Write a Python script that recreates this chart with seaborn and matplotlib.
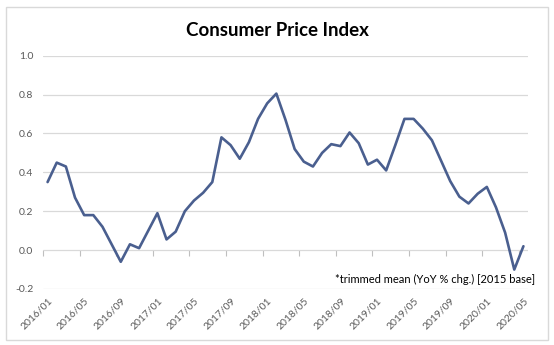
import matplotlib
matplotlib.use("Agg")
import matplotlib.pyplot as plt
from matplotlib.patches import Rectangle
import seaborn as sns
import pandas as pd

# ---- data ----
month_index = list(range(53))  # 2016/01 .. 2020/05, monthly
cpi_values = [0.35, 0.45, 0.43, 0.27, 0.18, 0.18, 0.12, 0.03, -0.06, 0.03,
              0.01, 0.10, 0.19, 0.055, 0.095, 0.20, 0.255, 0.295, 0.35, 0.58,
              0.54, 0.47, 0.555, 0.675, 0.755, 0.805, 0.67, 0.52, 0.455, 0.43,
              0.50, 0.545, 0.535, 0.605, 0.55, 0.44, 0.465, 0.41, 0.54, 0.675,
              0.675, 0.625, 0.565, 0.46, 0.355, 0.275, 0.24, 0.29, 0.325, 0.22,
              0.09, -0.10, 0.02]
tick_labels = ["2016/01", "2016/05", "2016/09", "2017/01", "2017/05", "2017/09",
               "2018/01", "2018/05", "2018/09", "2019/01", "2019/05", "2019/09",
               "2020/01", "2020/05"]
y_ticks = [-0.2, 0.0, 0.2, 0.4, 0.6, 0.8, 1.0]
title = "Consumer Price Index"
note = "*trimmed mean (YoY % chg.) [2015 base]"

df = pd.DataFrame({"month": month_index, "value": cpi_values})

sns.set_style("white")
plt.rcParams["font.family"] = ["Lato", "DejaVu Sans"]

fig = plt.figure(figsize=(5.54, 3.45), dpi=100)
ax = fig.add_axes([43 / 554, 1 - 289 / 345, (528 - 43) / 554, (289 - 55.7) / 345])

sns.lineplot(data=df, x="month", y="value", ax=ax, color="#4a5f8f", linewidth=1.9)

ax.set_xlim(-0.5, 52.5)
ax.set_ylim(-0.2, 1.0)
ax.set_yticks(y_ticks)
ax.set_yticklabels([f"{t:.1f}" for t in y_ticks], color="#595959", fontsize=7.5)
ax.yaxis.grid(True, color="#d9d9d9", linewidth=0.9)
ax.set_axisbelow(True)
ax.tick_params(axis="y", length=0, pad=7)

ax.set_xticks(month_index[::4])
ax.set_xticklabels(tick_labels, rotation=45, ha="right", rotation_mode="anchor",
                   color="#595959", fontsize=7.5)
ax.tick_params(axis="x", length=0, pad=5)
ax.set_xlabel("")
ax.set_ylabel("")
for s in ax.spines.values():
    s.set_visible(False)

# category-boundary tick marks on the zero line
sec = ax.secondary_xaxis((0 - (-0.2)) / 1.2)
sec.set_xticks([m - 0.5 for m in month_index[::4]])
sec.set_xticklabels([])
sec.tick_params(axis="x", length=4, color="#bfbfbf", direction="out")
sec.spines["bottom"].set_visible(False)

fig.text(277 / 554, 1 - 31 / 345, title, ha="center", va="center",
         fontsize=13.5, fontweight="bold", color="#000000")
fig.text(535 / 554, 1 - 279 / 345, note, ha="right", va="center",
         fontsize=8, color="#000000")

fig.patches.append(Rectangle((6 / 554, 1 - 340 / 345), (548 - 6) / 554, (340 - 7) / 345,
                             transform=fig.transFigure, fill=False,
                             edgecolor="#d9d9d9", linewidth=1.0))

fig.savefig("out.png", dpi=100)
